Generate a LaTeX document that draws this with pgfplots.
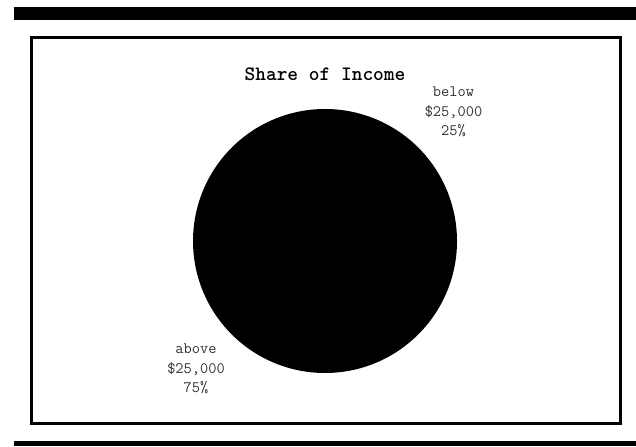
\documentclass[border=0pt]{standalone}
\usepackage{pgfplots}
\usepackage{pgfplotstable}
\pgfplotsset{compat=1.18}
\usepackage{fontspec}
\setmainfont{Liberation Sans}
\newfontfamily\mono{Liberation Mono}
\pgfplotstableread{
group value
below 25
above 75
}\piedata
\begin{document}
\begin{tikzpicture}[x=1bp,y=1bp]
\useasboundingbox (0,0) rectangle (636,447);
% decorative bars and frame
\fill[black] (14,427) rectangle (636,440);
\fill[black] (14,1) rectangle (636,6);
\draw[line width=3bp] (31.5,23.5) rectangle (620.5,409.5);
\pgfplotstablegetelem{0}{value}\of\piedata \edef\vbelow{\pgfplotsretval}
\pgfplotstablegetelem{1}{value}\of\piedata \edef\vabove{\pgfplotsretval}
\begin{axis}[
  at={(325bp,206bp)}, anchor=center,
  x=1bp, y=1bp, scale only axis,
  xmin=-200, xmax=200, ymin=-200, ymax=200,
  hide axis, clip=false,
]
\pgfmathsetmacro{\aend}{90-3.6*\vbelow}
\pgfmathsetmacro{\bend}{\aend-3.6*\vabove}
% slice "below $25,000": 25% clockwise from 12 o'clock
\fill[black] (axis cs:0,0) -- (axis cs:0,132) arc[start angle=90, end angle=\aend, radius=132bp] -- cycle;
% slice "above $25,000": 75%
\fill[black] (axis cs:0,0) -- ({axis cs:{132*cos(\aend)},{132*sin(\aend)}}) arc[start angle=\aend, end angle=\bend, radius=132bp] -- cycle;
\node[font=\ttfamily\bfseries\fontsize{20.5}{22}\selectfont] at (axis cs:0,167) {Share of Income};
\node[font=\ttfamily\fontsize{16}{19.5}\selectfont, align=center, text=black!80] at (axis cs:128.5,129) {below\\\$25,000\\25\%};
\node[font=\ttfamily\fontsize{16}{19.5}\selectfont, align=center, text=black!80] at (axis cs:-129,-128) {above\\\$25,000\\75\%};
\end{axis}
\end{tikzpicture}
\end{document}
